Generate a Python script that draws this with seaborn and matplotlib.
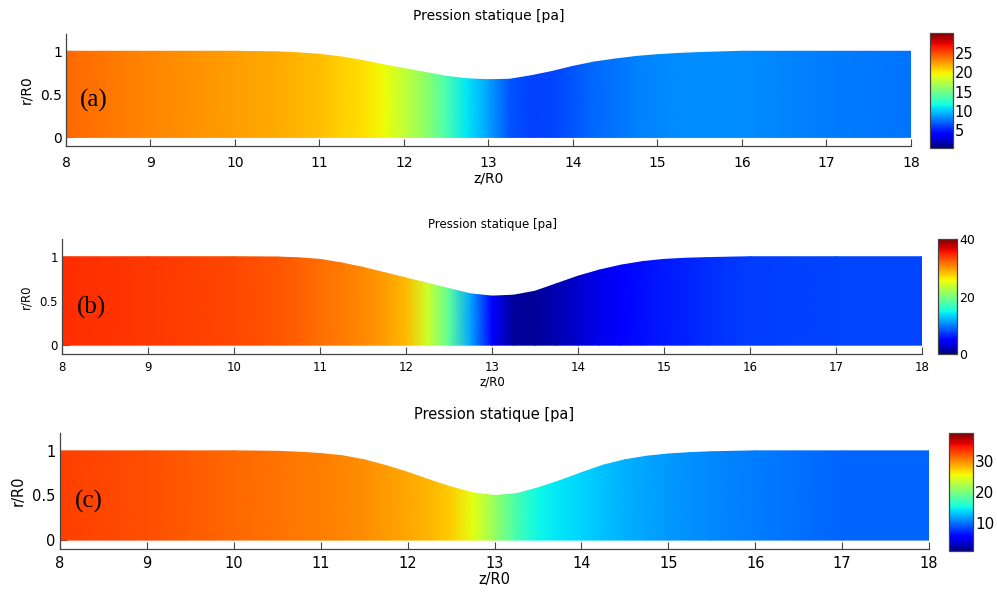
import numpy as np
import matplotlib
matplotlib.use("Agg")
import matplotlib.pyplot as plt
import seaborn as sns

# axial stations (z/R0) shared by the three cases
z_pos = [8, 9, 10, 10.5, 10.75, 11, 11.25, 11.5, 11.75, 12, 12.25, 12.5, 12.75, 13,
         13.25, 13.5, 13.75, 14, 14.25, 14.5, 14.75, 15, 15.25, 15.5, 16, 17, 18]

# wall radius r/R0 at each station
wall_a = [1, 1, 1, 0.993, 0.982, 0.965, 0.935, 0.895, 0.845, 0.80, 0.755, 0.71, 0.68, 0.67,
          0.675, 0.715, 0.765, 0.825, 0.875, 0.91, 0.94, 0.96, 0.975, 0.985, 1, 1, 1]
wall_b = [1, 1, 1, 0.997, 0.988, 0.97, 0.93, 0.88, 0.82, 0.76, 0.70, 0.64, 0.58, 0.555,
          0.565, 0.61, 0.695, 0.78, 0.85, 0.905, 0.945, 0.97, 0.983, 0.99, 1, 1, 1]
wall_c = [1, 1, 1, 0.995, 0.985, 0.97, 0.945, 0.90, 0.835, 0.76, 0.675, 0.595, 0.53, 0.50,
          0.52, 0.585, 0.665, 0.755, 0.84, 0.90, 0.94, 0.965, 0.98, 0.99, 1, 1, 1]

# static pressure [pa] at each station
pres_a = [24.2, 23.3, 22.5, 22.1, 21.8, 21.5, 21.0, 20.5, 19.6, 17.8, 16.0, 13.5, 10.8, 8.8,
          6.6, 6.0, 6.2, 6.6, 7.2, 7.6, 7.9, 8.1, 8.2, 8.3, 8.2, 7.8, 7.6]
pres_b = [34.4, 34.0, 33.4, 32.8, 32.3, 31.7, 31.1, 30.6, 29.8, 28.5, 24.0, 18.5, 11.5, 5.0,
          1.0, 0.8, 1.8, 2.8, 3.8, 4.8, 5.5, 6.0, 6.4, 6.8, 7.4, 7.8, 7.8]
pres_c = [33.0, 32.4, 31.4, 30.9, 30.6, 30.4, 30.1, 29.8, 29.3, 28.8, 28.2, 27.4, 24.8, 21.3,
          17.5, 15.0, 14.3, 13.7, 13.0, 12.4, 11.9, 11.4, 11.2, 10.9, 10.4, 9.6, 9.6]

x_ticks = list(range(8, 19))
y_ticks = [0, 0.5, 1]
y_ticklabels = ["0", "0.5", "1"]
cbar_ticks_a = [5, 10, 15, 20, 25]
cbar_ticks_b = [0, 20, 40]
cbar_ticks_c = [10, 20, 30]
title = "Pression statique [pa]"


def draw_panel(fig, wall, pres, tag, ticks, vlim, box, cbox, fs, pad, title_y):
    ax = fig.add_axes(box)
    z = np.array(z_pos, dtype=float)
    r = np.array(wall, dtype=float)
    p = np.array(pres, dtype=float)
    zz = np.vstack([z, z])
    rr = np.vstack([np.zeros_like(r), r])
    pp = np.vstack([p, p])
    mesh = ax.pcolormesh(zz, rr, pp, shading="gouraud", cmap=cmap,
                         vmin=vlim[0], vmax=vlim[1], rasterized=True)

    ax.set_xlim(8, 18)
    ax.set_ylim(-0.1, 1.2)
    ax.set_xticks(x_ticks)
    ax.set_yticks(y_ticks)
    ax.set_yticklabels(y_ticklabels)
    ax.tick_params(axis="x", direction="in", length=5, labelsize=fs, pad=pad,
                   color="#444444")
    ax.tick_params(axis="y", direction="in", length=5, labelsize=fs, pad=3,
                   color="#444444")
    sns.despine(ax=ax)
    for s in ["left", "bottom"]:
        ax.spines[s].set_color("#444444")
        ax.spines[s].set_linewidth(0.9)
    ax.set_xlabel("z/R0", fontsize=fs, labelpad=1)
    ax.set_ylabel("r/R0", fontsize=fs, labelpad=5)
    ax.text(0.5, title_y, title, transform=ax.transAxes, ha="center",
            va="center", fontsize=fs)
    ax.text(8.17, 0.43, tag, fontsize=18, family="Liberation Serif",
            ha="left", va="center")

    cax = fig.add_axes(cbox)
    cb = fig.colorbar(mesh, cax=cax, ticks=ticks)
    cb.outline.set_edgecolor("#444444")
    cb.outline.set_linewidth(0.9)
    cax.tick_params(direction="in", length=3, labelsize=fs + 0.5, pad=1.5,
                    color="#222222")
    return ax


sns.set_style("ticks")
plt.rcParams["font.family"] = ["DejaVu Sans"]
plt.rcParams["text.color"] = "black"
plt.rcParams["axes.labelcolor"] = "black"
plt.rcParams["xtick.labelcolor"] = "black"
plt.rcParams["ytick.labelcolor"] = "black"
cmap = matplotlib.colormaps["jet"]

fig = plt.figure(figsize=(9.97, 5.97), dpi=100)

draw_panel(fig, wall_a, pres_a, "(a)", cbar_ticks_a, (0.4, 30.2),
           [0.0662, 0.7554, 0.8475, 0.1876], [0.9328, 0.7526, 0.0228, 0.1916],
           10, 7.5, 1.16)
draw_panel(fig, wall_b, pres_b, "(b)", cbar_ticks_b, (0, 40),
           [0.0622, 0.4070, 0.8626, 0.1926], [0.9408, 0.4070, 0.0191, 0.1926],
           8.5, 5, 1.13)
draw_panel(fig, wall_c, pres_c, "(c)", cbar_ticks_c, (1, 39),
           [0.0602, 0.0804, 0.8716, 0.1943], [0.9519, 0.0770, 0.0241, 0.1977],
           10.5, 5, 1.16)

fig.savefig("out.png", dpi=100)
